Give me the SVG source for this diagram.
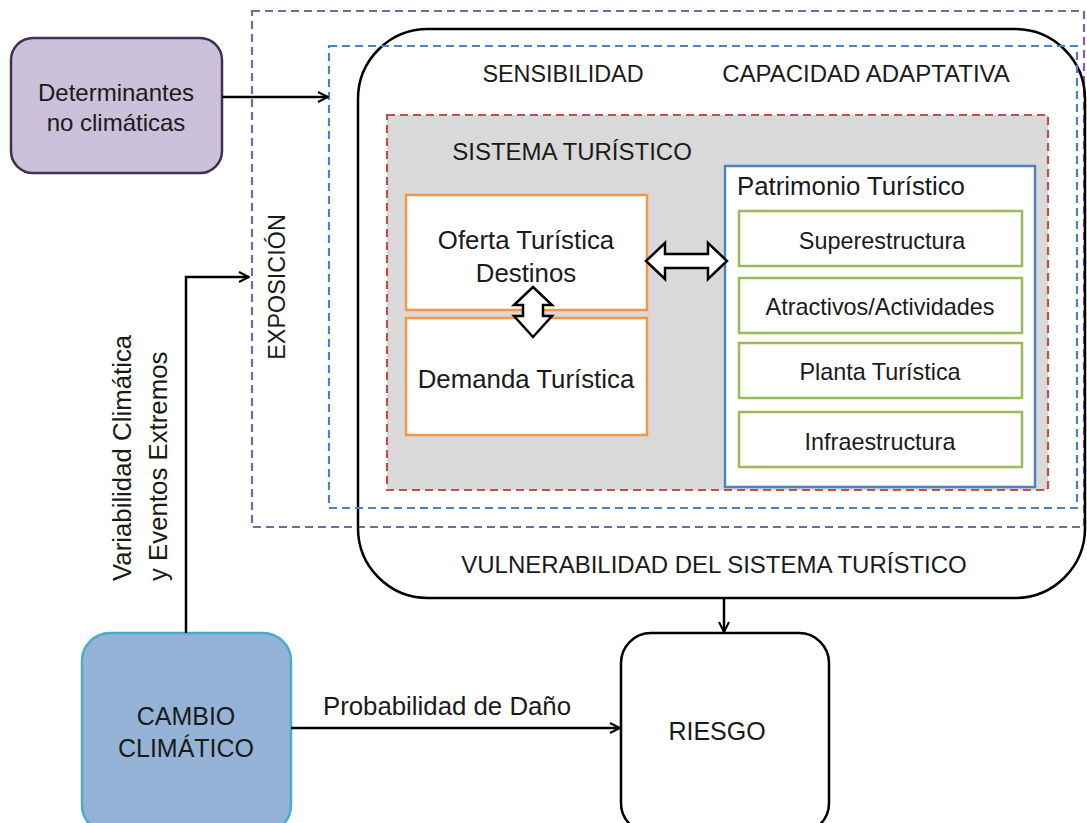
<svg xmlns="http://www.w3.org/2000/svg" width="1087" height="823" viewBox="0 0 1087 823">
<style>
text{font-family:"Liberation Sans",Arial,sans-serif;fill:#1a1a1a;font-size:24px}
.c{text-anchor:middle}
.lw{font-size:25.8px}
.g{font-size:23.4px}
.u{font-size:23.4px}
.b{font-size:25px}
.green{fill:#fff;stroke:#9bbb59;stroke-width:2.5}
.orange{fill:#fff;stroke:#f79646;stroke-width:2.5}
.conn{stroke:#000;stroke-width:2.5;fill:none}
.dbl{fill:#fff;stroke:#000;stroke-width:2.5;stroke-linejoin:miter}
</style>
<defs>
<marker id="ah" viewBox="0 0 12 12" refX="11" refY="6" markerWidth="12" markerHeight="12" markerUnits="userSpaceOnUse" orient="auto">
<path d="M1,1 L11,6 L1,11" fill="none" stroke="#000" stroke-width="2"/>
</marker>
</defs>
<rect width="1087" height="823" fill="#fff"/>
<g id="exposicion">
<rect x="252" y="11" width="832" height="516" fill="none" stroke="#8064a2" stroke-width="2.2" stroke-dasharray="8,5"/>
<text transform="translate(285,287) rotate(-90)" class="c u">EXPOSICIÓN</text>
</g>
<g id="vulnerabilidad">
<rect x="358" y="29" width="727" height="569" rx="70" ry="70" fill="none" stroke="#000" stroke-width="2.5"/>
<text x="714" y="573" class="c">VULNERABILIDAD DEL SISTEMA TURÍSTICO</text>
</g>
<g id="sensibilidad">
<rect x="329" y="46" width="748" height="462" fill="none" stroke="#4f81bd" stroke-width="2.2" stroke-dasharray="8,5"/>
<text x="563" y="82" class="c u">SENSIBILIDAD</text>
<text x="866" y="82" class="c">CAPACIDAD ADAPTATIVA</text>
</g>
<g id="sistema">
<rect x="387" y="115" width="661" height="375" fill="#d9d9d9" stroke="#c0504d" stroke-width="2.2" stroke-dasharray="8,5"/>
<text x="572" y="160" class="c">SISTEMA TURÍSTICO</text>
</g>
<g id="oferta">
<rect x="406" y="195" width="241" height="115" class="orange"/>
<text x="526" y="249" class="c lw">Oferta Turística</text>
<text x="526" y="282" class="c lw">Destinos</text>
</g>
<g id="demanda">
<rect x="406" y="318" width="241" height="117" class="orange"/>
<text x="526" y="388" class="c lw">Demanda Turística</text>
</g>
<g id="patrimonio">
<rect x="725" y="166" width="310" height="321" fill="#fff" stroke="#4f81bd" stroke-width="2.5"/>
<text x="737" y="195" class="lw">Patrimonio Turístico</text>
</g>
<g id="superestructura">
<rect x="739" y="211" width="283" height="55" class="green"/>
<text x="882" y="249" class="c g">Superestructura</text>
</g>
<g id="atractivos">
<rect x="739" y="278" width="283" height="55" class="green"/>
<text x="880" y="315" class="c g">Atractivos/Actividades</text>
</g>
<g id="planta">
<rect x="739" y="343" width="283" height="55" class="green"/>
<text x="880" y="380" class="c g">Planta Turística</text>
</g>
<g id="infraestructura">
<rect x="739" y="412" width="283" height="55" class="green"/>
<text x="880" y="450" class="c g">Infraestructura</text>
</g>
<g id="determinantes">
<rect x="11" y="38" width="211" height="135" rx="22" ry="22" fill="#ccc1da" stroke="#3f3151" stroke-width="2.5"/>
<text x="116" y="101" class="c">Determinantes</text>
<text x="116" y="131" class="c">no climáticas</text>
</g>
<g id="cambio">
<rect x="82" y="633" width="209" height="200" rx="28" ry="28" fill="#95b3d7" stroke="#4bacc6" stroke-width="2.5"/>
<text x="186" y="725" class="c b">CAMBIO</text>
<text x="186" y="757" class="c b">CLIMÁTICO</text>
</g>
<g id="riesgo">
<rect x="621" y="633" width="208" height="200" rx="30" ry="30" fill="#fff" stroke="#000" stroke-width="2.5"/>
<text x="717" y="740" class="c b">RIESGO</text>
</g>
<g id="connectors">
<path class="conn" d="M222,97 L328,97" marker-end="url(#ah)"/>
<path class="conn" d="M186,633 L186,277 L249,277" marker-end="url(#ah)"/>
<path class="conn" d="M724,598 L724,632" marker-end="url(#ah)"/>
<path class="conn" d="M291,728 L620,728" marker-end="url(#ah)"/>
<path class="dbl" d="M646,261 L665,243 L665,254 L708,254 L708,243 L727,261 L708,279 L708,268 L665,268 L665,279 Z"/>
<path class="dbl" d="M533,287 L552,305 L543,305 L543,316 L552,316 L533,337 L514,316 L523,316 L523,305 L514,305 Z"/>
<text transform="translate(131,581) rotate(-90)" class="lw">Variabilidad Climática</text>
<text transform="translate(167,581) rotate(-90)" class="lw">y Eventos Extremos</text>
<text x="447" y="715" class="c lw">Probabilidad de Daño</text>
</g>
</svg>
